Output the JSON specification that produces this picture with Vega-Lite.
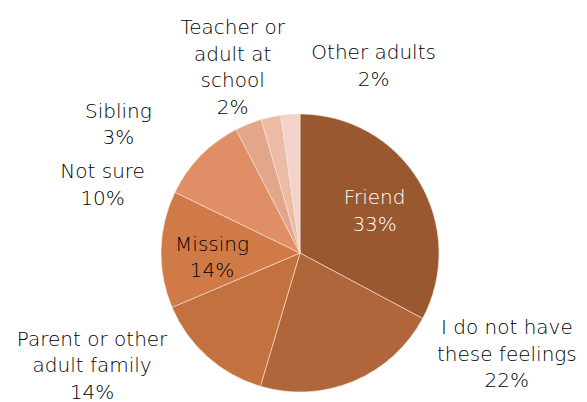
{
  "$schema": "https://vega.github.io/schema/vega-lite/v6.json",
  "width": 278,
  "height": 278,
  "autosize": {"type": "none"},
  "padding": {"left": 161, "top": 114, "right": 148, "bottom": 10},
  "background": "white",
  "config": {
    "view": {"stroke": null},
    "text": {"font": "DejaVu Sans", "fontSize": 20, "fontWeight": 200, "lineHeight": 26.5, "lineBreak": "\n", "align": "center", "baseline": "middle", "color": "#000000"}
  },
  "data": {
    "values": [
      {"category": "Friend", "label": "Friend", "value": 32.8, "order": 1},
      {"category": "I do not have these feelings", "label": "I do not have\nthese feelings", "value": 21.8, "order": 2},
      {"category": "Parent or other adult family", "label": "Parent or other\nadult family", "value": 14.0, "order": 3},
      {"category": "Missing", "label": "Missing", "value": 13.6, "order": 4},
      {"category": "Not sure", "label": "Not sure", "value": 10.2, "order": 5},
      {"category": "Sibling", "label": "Sibling", "value": 3.1, "order": 6},
      {"category": "Teacher or adult at school", "label": "Teacher or\nadult at\nschool", "value": 2.3, "order": 7},
      {"category": "Other adults", "label": "Other adults", "value": 2.2, "order": 8}
    ]
  },
  "transform": [
    {"stack": "value", "groupby": [], "sort": [{"field": "order", "order": "ascending"}], "as": ["v0", "v1"]},
    {"calculate": "(datum.v0 + datum.v1) / 2", "as": "mid"},
    {"calculate": "datum.label + '\\n' + format(datum.value, '.0f') + '%'", "as": "text"}
  ],
  "layer": [
    {
      "mark": {"type": "arc", "outerRadius": 139, "stroke": "#f6e6dc", "strokeWidth": 0.6},
      "encoding": {
        "theta": {"field": "v0", "type": "quantitative", "scale": {"domain": [0, 100]}},
        "theta2": {"field": "v1"},
        "color": {
          "field": "category",
          "type": "nominal",
          "legend": null,
          "scale": {
            "domain": ["Friend", "I do not have these feelings", "Parent or other adult family", "Missing", "Not sure", "Sibling", "Teacher or adult at school", "Other adults"],
            "range": ["#9a5830", "#b0663a", "#c3713f", "#d07b47", "#df8e66", "#e4a68a", "#ebbba6", "#f2d3c9"]
          }
        }
      }
    },
    {
      "transform": [{"filter": "datum.category == 'Friend'"}],
      "mark": {"type": "text", "radius": 87, "dy": -10, "color": "#ffffff"},
      "encoding": {
        "theta": {"field": "mid", "type": "quantitative", "stack": null, "scale": {"domain": [0, 100]}},
        "text": {"field": "text"}
      }
    },
    {
      "transform": [{"filter": "datum.category == 'Missing'"}],
      "mark": {"type": "text", "radius": 88, "dy": -6},
      "encoding": {
        "theta": {"field": "mid", "type": "quantitative", "stack": null, "scale": {"domain": [0, 100]}},
        "text": {"field": "text"}
      }
    },
    {
      "transform": [{"filter": "datum.category == 'I do not have these feelings'"}],
      "mark": {"type": "text", "radius": 150, "dx": 149, "dy": -63},
      "encoding": {
        "theta": {"field": "mid", "type": "quantitative", "stack": null, "scale": {"domain": [0, 100]}},
        "text": {"field": "text"}
      }
    },
    {
      "transform": [{"filter": "datum.category == 'Parent or other adult family'"}],
      "mark": {"type": "text", "radius": 150, "dx": -108, "dy": -25},
      "encoding": {
        "theta": {"field": "mid", "type": "quantitative", "stack": null, "scale": {"domain": [0, 100]}},
        "text": {"field": "text"}
      }
    },
    {
      "transform": [{"filter": "datum.category == 'Not sure'"}],
      "mark": {"type": "text", "radius": 150, "dx": -90, "dy": 24},
      "encoding": {
        "theta": {"field": "mid", "type": "quantitative", "stack": null, "scale": {"domain": [0, 100]}},
        "text": {"field": "text"}
      }
    },
    {
      "transform": [{"filter": "datum.category == 'Sibling'"}],
      "mark": {"type": "text", "radius": 150, "dx": -126, "dy": -2},
      "encoding": {
        "theta": {"field": "mid", "type": "quantitative", "stack": null, "scale": {"domain": [0, 100]}},
        "text": {"field": "text"}
      }
    },
    {
      "transform": [{"filter": "datum.category == 'Teacher or adult at school'"}],
      "mark": {"type": "text", "radius": 150, "dx": -36, "dy": -78},
      "encoding": {
        "theta": {"field": "mid", "type": "quantitative", "stack": null, "scale": {"domain": [0, 100]}},
        "text": {"field": "text"}
      }
    },
    {
      "transform": [{"filter": "datum.category == 'Other adults'"}],
      "mark": {"type": "text", "radius": 150, "dx": 84, "dy": -50},
      "encoding": {
        "theta": {"field": "mid", "type": "quantitative", "stack": null, "scale": {"domain": [0, 100]}},
        "text": {"field": "text"}
      }
    }
  ]
}
